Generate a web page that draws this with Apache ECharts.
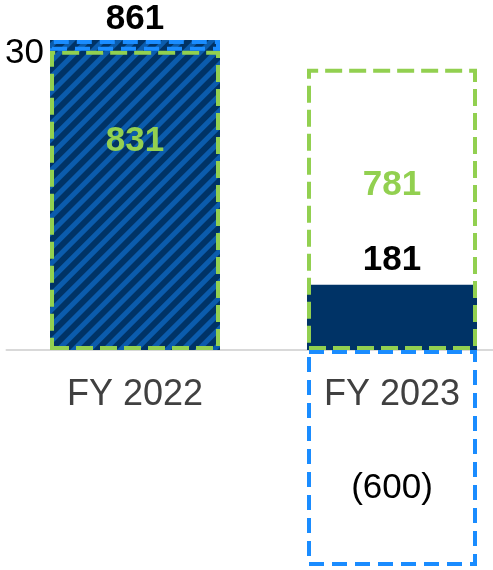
<!DOCTYPE html>
<html>
<head>
<meta charset="utf-8">
<script src="https://cdn.jsdelivr.net/npm/echarts@6/dist/echarts.min.js"></script>
<style>
html,body{margin:0;padding:0;background:#fff;}
#main{width:493px;height:570px;}
</style>
</head>
<body>
<div id="main"></div>
<script>
// ---- data ----
const categories = ['FY 2022', 'FY 2023'];
const hatchedTotal = [861, null];     // FY2022 total (hatched)
const solidValue = [null, 181];       // FY2023 value (solid)
const greenBox = [831, 781];          // green dashed outline values
const blueBase = [831, 0];            // invisible base under the blue boxes
const blueBox = [30, -600];           // blue dashed outline values
const baseline = [0, 0];              // category labels sit on the zero line

const FONT = '"Liberation Sans", Arial, sans-serif';
const NAVY = '#003366';
const STRIPE = '#0b5cad';
const GREEN = '#92d050';
const BLUE = '#1a8cff';
const BW = 170;

function fmt(v) { return v < 0 ? '(' + Math.abs(v) + ')' : String(v); }

const greenOffsets = [[0, -59.5], [0, -24.5]];
const blueLabels = [
  { show: true, position: 'left', distance: 6, offset: [0, 8], color: '#000', fontSize: 35, fontWeight: 'normal' },
  { show: true, position: 'inside', offset: [0, 30], color: '#000', fontSize: 35, fontWeight: 'normal' }
];

const chart = echarts.init(document.getElementById('main'));
chart.setOption({
  animation: false,
  grid: { left: 6.5, width: 514, top: 29.6, height: 540, containLabel: false, outerBoundsMode: 'none' },
  xAxis: {
    type: 'category',
    data: categories,
    axisLine: { onZero: true, lineStyle: { color: '#d9d9d9', width: 2 } },
    axisTick: { show: false },
    axisLabel: { show: false },
    splitLine: { show: false }
  },
  yAxis: {
    type: 'value', min: -610, max: 890, show: false,
    splitLine: { show: false }
  },
  series: [
    {
      type: 'bar', name: 'hatched', barWidth: BW, barGap: '-100%', clip: false,
      data: hatchedTotal,
      itemStyle: {
        color: NAVY,
        decal: {
          symbol: 'rect', symbolSize: 1, color: STRIPE,
          dashArrayX: [1, 0], dashArrayY: [5, 6], rotation: -Math.PI / 4
        }
      },
      label: {
        show: true, position: 'inside', offset: [0, -176],
        color: '#000', fontSize: 35, fontWeight: 'bold', fontFamily: FONT,
        formatter: p => fmt(p.value)
      },
      z: 1
    },
    {
      type: 'bar', name: 'solid', barWidth: BW, barGap: '-100%', clip: false,
      data: solidValue,
      itemStyle: { color: NAVY },
      label: {
        show: true, position: 'inside', offset: [0, -57.5],
        color: '#000', fontSize: 35, fontWeight: 'bold', fontFamily: FONT,
        formatter: p => fmt(p.value)
      },
      z: 2
    },
    {
      type: 'bar', name: 'green', barWidth: BW, barGap: '-100%', clip: false,
      data: greenBox.map((v, i) => ({
        value: v,
        label: { offset: greenOffsets[i] }
      })),
      itemStyle: { color: 'rgba(0,0,0,0)', borderColor: GREEN, borderWidth: 4, borderType: [17, 7] },
      label: {
        show: true, position: 'inside',
        color: GREEN, fontSize: 35, fontWeight: 'bold', fontFamily: FONT,
        formatter: p => fmt(p.value)
      },
      z: 3
    },
    {
      type: 'bar', name: 'blueBase', stack: 'blue', barWidth: BW, barGap: '-100%', clip: false,
      data: blueBase,
      itemStyle: { color: 'rgba(0,0,0,0)' },
      silent: true,
      z: 4
    },
    {
      type: 'bar', name: 'blue', stack: 'blue', barWidth: BW, barGap: '-100%', clip: false,
      data: blueBox.map((v, i) => ({ value: v, label: blueLabels[i] })),
      itemStyle: { color: 'rgba(0,0,0,0)', borderColor: BLUE, borderWidth: 4, borderType: [15, 8] },
      label: {
        show: true, fontFamily: FONT,
        formatter: p => fmt(p.value)
      },
      z: 5
    },
    {
      type: 'scatter', name: 'categoryLabels', symbolSize: 1, clip: false,
      data: baseline,
      itemStyle: { color: 'rgba(0,0,0,0)', opacity: 1 },
      label: {
        show: true, position: 'inside', offset: [0, 45], opacity: 1,
        color: '#404040', fontSize: 36, fontFamily: FONT,
        formatter: p => categories[p.dataIndex]
      },
      z: 6
    }
  ]
});
</script>
</body>
</html>
